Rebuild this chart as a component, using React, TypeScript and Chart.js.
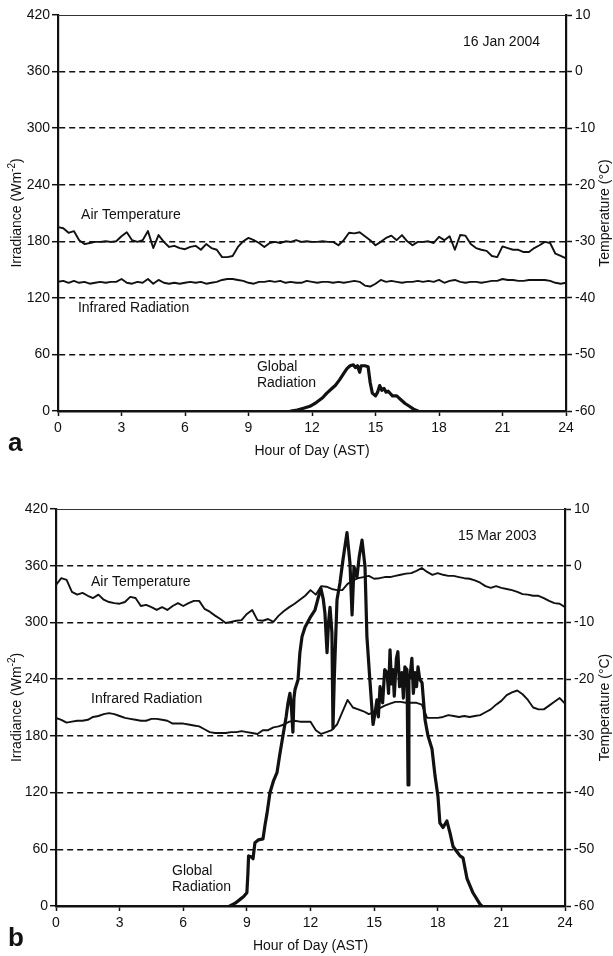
import React, { useEffect, useRef } from "react";
import { Chart, registerables } from "chart.js";
Chart.register(...registerables);

const FONT = "'Liberation Sans', Arial, Helvetica, sans-serif";
const INK = "#111";

// Hour of day (AST) for the regularly sampled series
const HOURS = [
  0, 0.25, 0.5, 0.75, 1, 1.25, 1.5, 1.75, 2, 2.25, 2.5, 2.75, 3, 3.25, 3.5, 3.75,
  4, 4.25, 4.5, 4.75, 5, 5.25, 5.5, 5.75, 6, 6.25, 6.5, 6.75, 7, 7.25, 7.5, 7.75,
  8, 8.25, 8.5, 8.75, 9, 9.25, 9.5, 9.75, 10, 10.25, 10.5, 10.75, 11, 11.25, 11.5, 11.75,
  12, 12.25, 12.5, 12.75, 13, 13.25, 13.5, 13.75, 14, 14.25, 14.5, 14.75, 15, 15.25, 15.5, 15.75,
  16, 16.25, 16.5, 16.75, 17, 17.25, 17.5, 17.75, 18, 18.25, 18.5, 18.75, 19, 19.25, 19.5, 19.75,
  20, 20.25, 20.5, 20.75, 21, 21.25, 21.5, 21.75, 22, 22.25, 22.5, 22.75, 23, 23.25, 23.5, 23.75,
  24,
];

const X_TICKS = [0, 3, 6, 9, 12, 15, 18, 21, 24];
const IRR_TICKS = [0, 60, 120, 180, 240, 300, 360, 420];
const TEMP_TICKS = [-60, -50, -40, -30, -20, -10, 0, 10];

// ---- Panel a: 16 Jan 2004 ----
const AIR_TEMP_A = [
  -27.5, -27.7, -28.5, -28.2, -29.8, -30.5, -30.3, -30.1,
  -30.1, -30.0, -30.1, -30.0, -29.1, -28.4, -29.8, -30.1,
  -29.8, -28.2, -31.2, -28.9, -30.1, -31.0, -30.8, -31.2,
  -31.4, -31.0, -30.8, -31.5, -30.5, -31.2, -31.5, -32.8,
  -32.8, -32.6, -31.0, -30.0, -29.4, -29.8, -30.3, -31.0,
  -30.3, -30.1, -30.3, -30.0, -30.1, -29.8, -30.1, -30.0,
  -30.1, -30.1, -30.0, -30.1, -30.1, -30.7, -29.8, -28.5,
  -28.6, -28.4, -29.1, -29.8, -30.7, -30.1, -29.4, -29.0,
  -29.8, -28.9, -30.0, -30.7, -30.1, -30.1, -30.0, -30.3,
  -29.2, -29.8, -29.1, -31.5, -28.9, -29.0, -30.5, -31.2,
  -31.5, -31.7, -32.6, -32.8, -30.9, -31.2, -31.5, -31.5,
  -31.9, -31.9, -31.2, -30.7, -30.1, -30.3, -32.2, -32.6,
  -33.0,
];
const INFRARED_A = [
  137, 138, 136, 138, 136, 137, 135, 136,
  137, 136, 137, 137, 140, 136, 135, 137,
  136, 140, 135, 139, 136, 135, 136, 135,
  136, 137, 136, 137, 135, 136, 137, 139,
  140, 140, 139, 138, 136, 135, 137, 137,
  138, 137, 138, 136, 137, 136, 136, 138,
  137, 136, 137, 137, 136, 137, 136, 137,
  138, 137, 133, 132, 135, 139, 137, 138,
  137, 136, 137, 137, 138, 137, 138, 137,
  139, 136, 138, 139, 137, 136, 137, 137,
  136, 137, 138, 138, 140, 139, 139, 138,
  138, 139, 139, 139, 139, 138, 136, 135,
  136,
];
const GLOBAL_A_HOURS = [
  11.0, 11.3, 11.6, 11.9, 12.2, 12.5, 12.7, 12.9, 13.1, 13.3, 13.5, 13.65,
  13.8, 13.95, 14.05, 14.15, 14.25, 14.32, 14.5, 14.65, 14.75, 14.85, 15.0,
  15.1, 15.2, 15.3, 15.4, 15.5, 15.6, 15.8, 16.0, 16.2, 16.4, 16.6, 16.8, 17.0,
];
const GLOBAL_A = [
  0, 1, 3, 5, 9, 14, 19, 23, 27, 33, 40, 45,
  48, 49, 46, 48, 41, 48, 48, 47, 30, 19, 16,
  20, 27, 22, 24, 20, 21, 16, 16, 12, 8, 5, 2, 0,
];

// ---- Panel b: 15 Mar 2003 ----
const AIR_TEMP_B = [
  -3.4, -2.2, -2.5, -4.6, -5.1, -4.8, -5.3, -5.7,
  -5.1, -6.0, -6.4, -6.6, -6.7, -6.4, -5.5, -5.7,
  -7.1, -6.9, -7.3, -7.8, -7.3, -7.8, -7.1, -6.6,
  -7.1, -6.6, -6.2, -6.2, -7.6, -8.1, -8.8, -9.4,
  -10.1, -9.9, -9.7, -9.6, -8.5, -7.8, -9.6, -9.7,
  -9.4, -9.9, -8.8, -8.0, -7.3, -6.7, -6.0, -5.3,
  -4.3, -5.1, -3.6, -3.7, -4.1, -4.3, -4.3, -3.2,
  -2.6, -2.2, -2.0, -1.8, -2.3, -2.2, -2.0, -2.0,
  -1.8, -1.6, -1.4, -1.3, -0.9, -0.4, -1.1, -1.6,
  -1.3, -1.6, -1.8, -1.8, -2.0, -2.2, -2.3, -2.6,
  -3.0, -3.6, -3.9, -3.6, -3.9, -4.1, -4.3, -4.6,
  -5.0, -5.1, -5.3, -5.3, -5.7, -6.2, -6.6, -6.7,
  -7.3,
];
const INFRARED_B = [
  199, 197, 194, 195, 196, 196, 197, 200,
  201, 203, 204, 203, 201, 199, 198, 197,
  196, 196, 198, 198, 197, 196, 193, 193,
  193, 192, 191, 190, 187, 184, 183, 183,
  183, 184, 184, 185, 184, 183, 182, 186,
  186, 189, 190, 192, 195, 196, 195, 195,
  195, 186, 182, 184, 186, 192, 205, 218,
  210, 208, 206, 203, 205, 209, 212, 214,
  216, 216, 215, 215, 215, 213, 199, 199,
  199, 200, 202, 201, 200, 201, 200, 201,
  202, 205, 208, 213, 217, 223, 226, 228,
  224, 218, 210, 208, 208, 212, 216, 220,
  214,
];
const GLOBAL_B_HOURS = [
  8.2, 8.45, 8.68, 8.85, 9.0, 9.05, 9.08, 9.2, 9.29, 9.38, 9.55, 9.76,
  9.85, 9.95, 10.09, 10.25, 10.42, 10.55, 10.7, 10.85, 10.94, 11.03, 11.1, 11.17,
  11.22, 11.27, 11.41, 11.5, 11.6, 11.74, 11.98, 12.21, 12.35, 12.49, 12.6, 12.68,
  12.78, 12.85, 12.92, 13.01, 13.06, 13.12, 13.25, 13.39, 13.53, 13.72, 13.86, 13.96,
  14.05, 14.19, 14.3, 14.43, 14.57, 14.66, 14.8, 14.95, 15.05, 15.13, 15.2, 15.28,
  15.4, 15.5, 15.61, 15.68, 15.75, 15.82, 15.89, 15.95, 16.05, 16.12, 16.2, 16.31,
  16.38, 16.45, 16.55, 16.6, 16.64, 16.69, 16.78, 16.85, 16.93, 17.0, 17.07, 17.15,
  17.26, 17.4, 17.54, 17.73, 17.87, 18.01, 18.1, 18.25, 18.43, 18.58, 18.72, 18.95,
  19.05, 19.19, 19.38, 19.66, 19.99, 20.08,
];
const GLOBAL_B = [
  0, 3, 7, 10, 14, 35, 53, 52, 50, 67, 70, 71,
  85, 98, 120, 132, 141, 160, 180, 200, 215, 225, 210, 184,
  220, 229, 239, 268, 285, 295, 305, 313, 325, 336, 325, 310,
  268, 300, 316, 289, 188, 240, 324, 342, 366, 395, 363, 308,
  359, 348, 370, 387, 359, 285, 239, 192, 205, 218, 200, 232,
  215, 250, 247, 225, 271, 235, 250, 222, 262, 269, 232, 247,
  220, 253, 250, 128, 240, 242, 262, 225, 247, 232, 253, 240,
  236, 197, 180, 166, 138, 116, 88, 83, 90, 77, 63, 56,
  53, 51, 29, 14, 2, 0,
];

type Note = { text: string; h: number; irr: number };

const NOTES_A: Note[] = [
  { text: "16 Jan 2004", h: 19.13, irr: 391 },
  { text: "Air Temperature", h: 1.09, irr: 208 },
  { text: "Infrared Radiation", h: 0.94, irr: 109 },
  { text: "Global", h: 9.4, irr: 46.5 },
  { text: "Radiation", h: 9.4, irr: 29.5 },
];
const NOTES_B: Note[] = [
  { text: "15 Mar 2003", h: 18.95, irr: 391.5 },
  { text: "Air Temperature", h: 1.65, irr: 343 },
  { text: "Infrared Radiation", h: 1.65, irr: 219 },
  { text: "Global", h: 5.47, irr: 37 },
  { text: "Radiation", h: 5.47, irr: 20 },
];

type Panel = {
  letter: string;
  air: number[];
  ir: number[];
  gH: number[];
  g: number[];
  notes: Note[];
  top: number;
  leftW: number;
  rightW: number;
  xH: number;
};

const PANEL_A: Panel = {
  letter: "a", air: AIR_TEMP_A, ir: INFRARED_A, gH: GLOBAL_A_HOURS, g: GLOBAL_A,
  notes: NOTES_A, top: 15, leftW: 58, rightW: 47, xH: 67,
};
const PANEL_B: Panel = {
  letter: "b", air: AIR_TEMP_B, ir: INFRARED_B, gH: GLOBAL_B_HOURS, g: GLOBAL_B,
  notes: NOTES_B, top: 31, leftW: 56, rightW: 48, xH: 50,
};

const overlay = (p: Panel) => ({
  id: "overlay" + p.letter,
  afterDraw(chart: any) {
    const { ctx, chartArea } = chart;
    const { left, right, top, bottom } = chartArea;
    const xs = chart.scales.x;
    const ys = chart.scales.y;
    ctx.save();
    // top frame line
    ctx.strokeStyle = "#333";
    ctx.lineWidth = 1;
    ctx.beginPath();
    ctx.moveTo(left, Math.round(top) + 0.5);
    ctx.lineTo(right, Math.round(top) + 0.5);
    ctx.stroke();

    ctx.fillStyle = INK;
    ctx.textBaseline = "middle";
    ctx.textAlign = "left";
    ctx.font = `14px ${FONT}`;
    for (const n of p.notes) {
      ctx.fillText(n.text, xs.getPixelForValue(n.h), ys.getPixelForValue(n.irr));
    }

    // x title
    ctx.textAlign = "center";
    ctx.fillText("Hour of Day (AST)", (left + right) / 2, bottom + 40);

    // panel letter
    ctx.textAlign = "left";
    ctx.textBaseline = "alphabetic";
    ctx.font = `bold 26px ${FONT}`;
    ctx.fillText(p.letter, 8, bottom + 40);

    const midY = (top + bottom) / 2;
    // left title with superscript
    ctx.save();
    ctx.translate(17, midY);
    ctx.rotate(-Math.PI / 2);
    ctx.textBaseline = "middle";
    ctx.textAlign = "left";
    ctx.font = `14px ${FONT}`;
    const t1 = "Irradiance (Wm";
    const t3 = ")";
    const w1 = ctx.measureText(t1).width;
    const w3 = ctx.measureText(t3).width;
    ctx.font = `10px ${FONT}`;
    const t2 = "-2";
    const w2 = ctx.measureText(t2).width;
    const x0 = -(w1 + w2 + w3) / 2;
    ctx.font = `14px ${FONT}`;
    ctx.fillText(t1, x0, 0);
    ctx.font = `10px ${FONT}`;
    ctx.fillText(t2, x0 + w1, -5);
    ctx.font = `14px ${FONT}`;
    ctx.fillText(t3, x0 + w1 + w2, 0);
    ctx.restore();

    // right title
    ctx.save();
    ctx.translate(605, midY);
    ctx.rotate(-Math.PI / 2);
    ctx.textBaseline = "middle";
    ctx.textAlign = "center";
    ctx.font = `14px ${FONT}`;
    ctx.fillText("Temperature (°C)", 0, 0);
    ctx.restore();

    ctx.restore();
  },
});

function makeConfig(p: Panel): any {
  const pts = (xs: number[], ys: number[]) => xs.map((x, i) => ({ x, y: ys[i] }));
  const tickFont = { size: 14, family: FONT };
  const lineBase = {
    borderColor: INK,
    pointRadius: 0,
    tension: 0,
    fill: false,
    borderJoinStyle: "round",
    borderCapStyle: "round",
  };
  return {
    type: "line",
    data: {
      datasets: [
        { ...lineBase, label: "Air Temperature", data: pts(HOURS, p.air), yAxisID: "yT", borderWidth: 1.9 },
        { ...lineBase, label: "Infrared Radiation", data: pts(HOURS, p.ir), yAxisID: "y", borderWidth: 1.9 },
        { ...lineBase, label: "Global Radiation", data: pts(p.gH, p.g), yAxisID: "y", borderWidth: 3.2 },
      ],
    },
    options: {
      animation: false,
      responsive: false,
      events: [],
      layout: { padding: { top: p.top, left: 0, right: 0, bottom: 0 } },
      plugins: { legend: { display: false }, tooltip: { enabled: false }, title: { display: false } },
      scales: {
        x: {
          type: "linear",
          position: "bottom",
          min: 0,
          max: 24,
          afterBuildTicks: (s: any) => { s.ticks = X_TICKS.map((v) => ({ value: v })); },
          ticks: { color: INK, font: tickFont, padding: 4, maxRotation: 0, autoSkip: false },
          grid: { drawOnChartArea: false, drawTicks: true, tickLength: 5, tickColor: INK, tickWidth: 1.5 },
          border: { color: INK, width: 2.4 },
          afterFit: (s: any) => { s.height = p.xH; },
        },
        y: {
          type: "linear",
          position: "left",
          min: 0,
          max: 420,
          afterBuildTicks: (s: any) => { s.ticks = IRR_TICKS.map((v) => ({ value: v })); },
          ticks: { color: INK, font: tickFont, padding: 2 },
          grid: {
            color: (c: any) => (c.tick && (c.tick.value === 0 || c.tick.value === 420) ? "rgba(0,0,0,0)" : INK),
            lineWidth: 1.4,
            drawTicks: true,
            tickLength: 6,
            tickColor: INK,
            tickWidth: 1.5,
          },
          border: { color: INK, width: 2.2, dash: [6, 4] },
          afterFit: (s: any) => { s.width = p.leftW; },
        },
        yT: {
          type: "linear",
          position: "right",
          min: -60,
          max: 10,
          afterBuildTicks: (s: any) => { s.ticks = TEMP_TICKS.map((v) => ({ value: v })); },
          ticks: { color: INK, font: tickFont, padding: 3 },
          grid: { drawOnChartArea: false, drawTicks: true, tickLength: 6, tickColor: INK, tickWidth: 1.5 },
          border: { color: INK, width: 2.2 },
          afterFit: (s: any) => { s.width = p.rightW; },
        },
      },
    },
    plugins: [overlay(p)],
  };
}

function PanelChart({ panel, top }: { panel: Panel; top: number }) {
  const ref = useRef<HTMLCanvasElement | null>(null);
  useEffect(() => {
    if (!ref.current) return;
    const chart = new Chart(ref.current, makeConfig(panel));
    return () => chart.destroy();
  }, [panel]);
  return (
    <canvas
      ref={ref}
      width={613}
      height={478}
      style={{ position: "absolute", left: 0, top, width: 613, height: 478, display: "block" }}
    />
  );
}

export default function App() {
  useEffect(() => {
    Chart.defaults.font.family = FONT;
    Chart.defaults.color = INK;
  }, []);
  return (
    <div style={{ position: "absolute", left: 0, top: 0, width: 613, height: 956, background: "#fff", overflow: "hidden" }}>
      <PanelChart panel={PANEL_A} top={0} />
      <PanelChart panel={PANEL_B} top={478} />
    </div>
  );
}
